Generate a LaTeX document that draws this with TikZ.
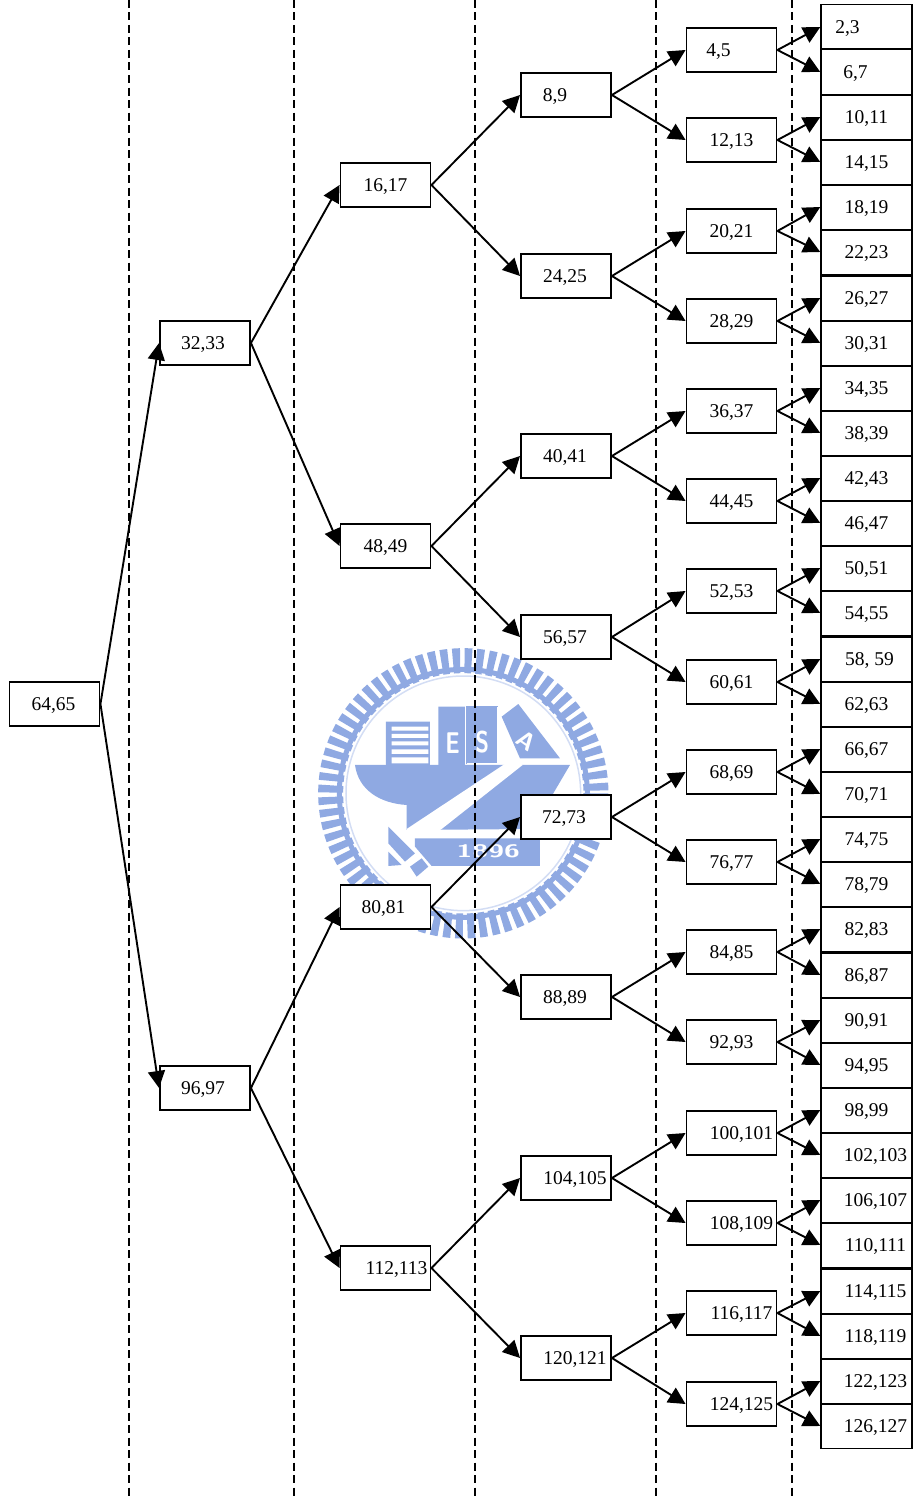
\documentclass[tikz,border=0pt]{standalone}
\usepackage{fontspec}
\setmainfont{Liberation Serif}
\usetikzlibrary{arrows.meta}
\definecolor{crest}{HTML}{8FA9E2}
\definecolor{crestlt}{HTML}{D3DDF4}
\newcommand{\off}[1]{\kern#1pt\kern#1pt}
\tikzset{
  box/.style={draw=black,line width=1.9pt,fill=white,align=center,inner sep=0pt,minimum width=90pt,minimum height=44.5pt,text height=13pt,text depth=0pt,font=\fontsize{19.5}{22}\selectfont},
  cell/.style={box,minimum width=90.5pt,minimum height=44.9pt},
  ar/.style={-{Triangle[length=17pt,width=17pt]},line width=1.9pt,draw=black},
  sep/.style={draw=black,line width=1.6pt,dash pattern=on 8pt off 4.5pt},
  crestfont/.style={white,font=\sffamily\bfseries\fontsize{#1}{#1}\selectfont},
}
\begin{document}
\begin{tikzpicture}[x=1pt,y=-1pt]
\useasboundingbox (0,0) rectangle (917,1496);
% crest behind everything
\begin{scope}[shift={(300,630)},x=0.3333pt,y=-0.3333pt]
\draw[crest,line width=25pt,dash pattern=on 7.2pt off 4.4pt] (490,490) circle (398);
\draw[crest,line width=5pt] (490,490) circle (372);
\draw[crestlt,line width=1.5pt] (490,490) circle (352);
\fill[crest] (165,405) .. controls (175,480) and (240,520) .. (320,525) -- (320,600) -- (695,597) -- (760,490) -- (810,405) -- cycle;
\fill[crest] (258,275) rectangle (390,405) (415,230) rectangle (495,405);
\draw[crest,fill=crest] (500,230) rectangle (592,400);
\draw[white,line width=1pt] (500,400) -- (592,400) -- (592,230);
\fill[crest] (605,260) -- (655,222) -- (780,385) -- (660,385) -- cycle;
\fill[white] (275,290) rectangle (385,302) (275,312) rectangle (385,324) (275,334) rectangle (385,346) (275,358) rectangle (385,372) (275,382) rectangle (385,400);
\fill[white] (320,597) -- (640,385) -- (668,405) -- (425,597) -- (345,645) -- cycle;
\fill[crest] (345,625) -- (720,625) -- (720,708) -- (395,708) -- (345,650) -- cycle;
\fill[crest] (265,590) -- (310,635) -- (345,670) -- (315,695) -- (265,640) -- cycle (330,710) -- (365,685) -- (385,710) -- (350,740) -- cycle (265,665) -- (305,705) -- (265,708) -- cycle;
\node[crestfont=30,xscale=.75,transform shape] (crestE) at (458,340) {E};
\node[crestfont=30,xscale=.75,transform shape] (crestS) at (547,337) {S};
\node[crestfont=24,rotate=-35,transform shape] (crestA) at (680,332) {A};
\node[crestfont=18,xscale=1.6,transform shape] (crestY) at (565,665) {1896};
\end{scope}
% separators
\foreach \xx in {129,294,475,656,792}
  \draw[sep] (\xx,0) -- (\xx,1496);
% levels
\foreach \nm/\lab/\yy/\tx in {b64/{64,65}/704/-1}
  \node[box] (\nm) at (54.5,\yy) {\off{\tx}\lab};
\foreach \nm/\lab/\yy/\tx in {b32/{32,33}/343/-2,b96/{96,97}/1088/-2}
  \node[box] (\nm) at (205,\yy) {\off{\tx}\lab};
\foreach \nm/\lab/\yy/\tx in {b16/{16,17}/185/0,b48/{48,49}/546/0,b80/{80,81}/907/-2,b112/{112,113}/1268/11}
  \node[box] (\nm) at (385.5,\yy) {\off{\tx}\lab};
\foreach \nm/\lab/\yy/\tx in {b8/{8,9}/95/-11,b24/{24,25}/276/-1,b40/{40,41}/456/-1,b56/{56,57}/637/-1,b72/{72,73}/817/-2,b88/{88,89}/997/-1,b104/{104,105}/1178/9,b120/{120,121}/1358/9}
  \node[box] (\nm) at (566,\yy) {\off{\tx}\lab};
\foreach \nm/\lab/\yy/\tx in {b4/{4,5}/50/-13,b12/{12,13}/140/0,b20/{20,21}/231/0,b28/{28,29}/321/0,b36/{36,37}/411/0,b44/{44,45}/501/0,b52/{52,53}/591/0,b60/{60,61}/682/0,b68/{68,69}/772/0,b76/{76,77}/862/0,b84/{84,85}/952/0,b92/{92,93}/1042/0,b100/{100,101}/1133/10,b108/{108,109}/1223/10,b116/{116,117}/1313/10,b124/{124,125}/1404/10}
  \node[box] (\nm) at (731.5,\yy) {\off{\tx}\lab};
\foreach \nm/\lab/\yy/\tx in {b2/{2,3}/27/-19,b6/{6,7}/72/-11,b10/{10,11}/117/0,b14/{14,15}/162/0,b18/{18,19}/207/0,b22/{22,23}/252/0,b26/{26,27}/298/0,b30/{30,31}/343/0,b34/{34,35}/388/0,b38/{38,39}/433/0,b42/{42,43}/478/0,b46/{46,47}/523/0,b50/{50,51}/568/0,b54/{54,55}/613/0,b58/{58, 59}/659/3,b62/{62,63}/704/0,b66/{66,67}/749/0,b70/{70,71}/794/0,b74/{74,75}/839/0,b78/{78,79}/884/0,b82/{82,83}/929/0,b86/{86,87}/975/0,b90/{90,91}/1020/0,b94/{94,95}/1065/0,b98/{98,99}/1110/0,b102/{102,103}/1155/9,b106/{106,107}/1200/9,b110/{110,111}/1245/9,b114/{114,115}/1291/9,b118/{118,119}/1336/9,b122/{122,123}/1381/9,b126/{126,127}/1426/9}
  \node[cell] (\nm) at (866.5,\yy) {\off{\tx}\lab};
% edges: parent/step
\foreach \pa/\st in {64/32,32/16,96/16,16/8,48/8,80/8,112/8,8/4,24/4,40/4,56/4,72/4,88/4,104/4,120/4,4/2,12/2,20/2,28/2,36/2,44/2,52/2,60/2,68/2,76/2,84/2,92/2,100/2,108/2,116/2,124/2}{
  \pgfmathtruncatemacro{\lo}{\pa-\st}
  \pgfmathtruncatemacro{\hi}{\pa+\st}
  \draw[ar] (b\pa.east) -- (b\lo.west);
  \draw[ar] (b\pa.east) -- (b\hi.west);
}
\end{tikzpicture}
\end{document}
